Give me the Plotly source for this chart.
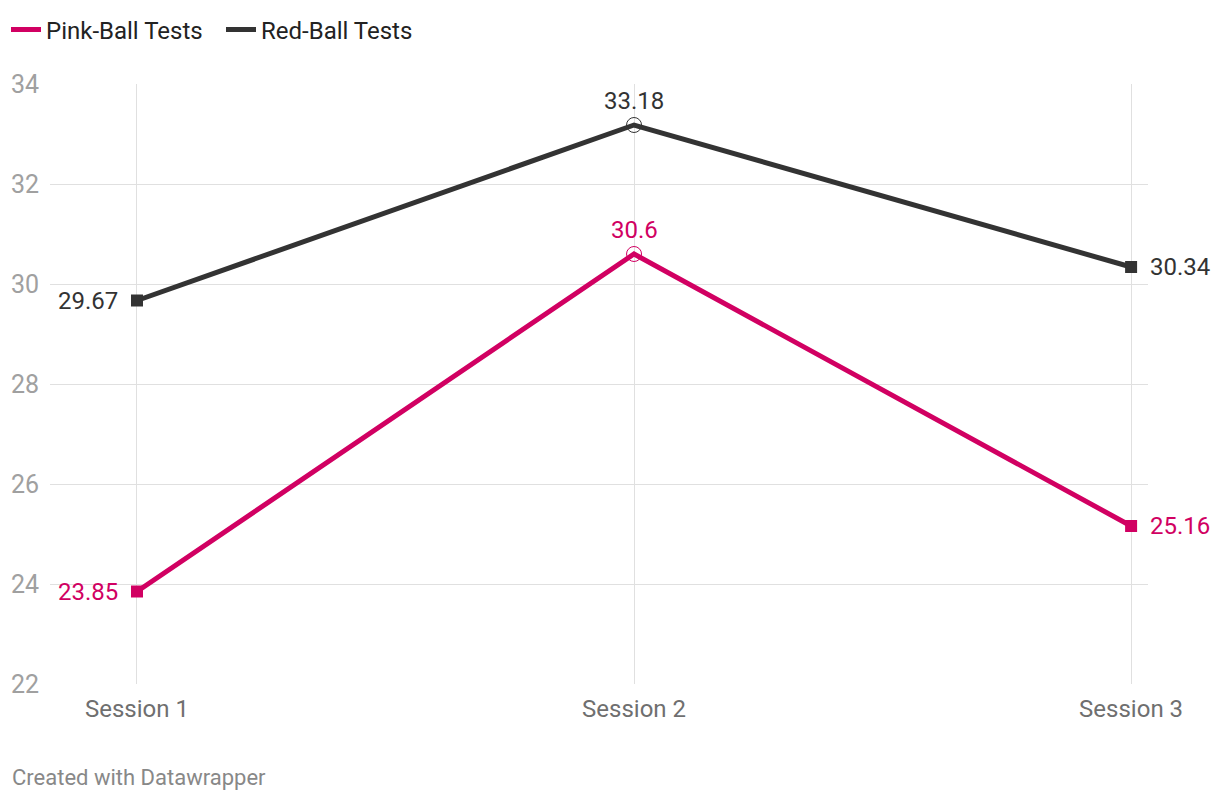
import plotly.graph_objects as go

sessions = ["Session 1", "Session 2", "Session 3"]
pink_ball = [23.85, 30.6, 25.16]
red_ball = [29.67, 33.18, 30.34]
y_ticks = [22, 24, 26, 28, 30, 32, 34]

PINK = "#d10062"
DARK = "#333333"
GRID = "#e0e0e0"
FONT = "Roboto"

x_pos = list(range(len(sessions)))
ends = [0, 2]  # square markers at the ends, open circle in the middle
# label placement per point: (xanchor, yanchor, xshift, yshift)
label_place = [("right", "middle", -17, 0), ("center", "bottom", 0, 8), ("left", "middle", 17, 0)]

fig = go.Figure()

for vals, color in [(red_ball, DARK), (pink_ball, PINK)]:
    fig.add_trace(go.Scatter(
        x=x_pos, y=vals, mode="lines",
        line=dict(color=color, width=5),
        showlegend=False, hoverinfo="skip",
    ))
    fig.add_trace(go.Scatter(
        x=[x_pos[i] for i in ends], y=[vals[i] for i in ends], mode="markers",
        marker=dict(symbol="square", size=12, color=color, opacity=1,
                    line=dict(width=0)),
        cliponaxis=False, showlegend=False, hoverinfo="skip",
    ))
    fig.add_trace(go.Scatter(
        x=[x_pos[1]], y=[vals[1]], mode="markers",
        marker=dict(symbol="circle-open", size=15, color=color, opacity=1,
                    line=dict(width=1, color=color)),
        cliponaxis=False, showlegend=False, hoverinfo="skip",
    ))
    for i, v in enumerate(vals):
        xa, ya, xs, ys = label_place[i]
        fig.add_annotation(x=x_pos[i], y=v, text=f"{v:g}", showarrow=False,
                           xanchor=xa, yanchor=ya, xshift=xs, yshift=ys,
                           font=dict(family=FONT, size=24, color=color))

# legend-only entries (line swatches, no markers)
for name, color in [("Pink-Ball Tests", PINK), ("Red-Ball Tests", DARK)]:
    fig.add_trace(go.Scatter(x=[None], y=[None], mode="lines", name=name,
                             line=dict(color=color, width=5)))

fig.add_annotation(text="Created with Datawrapper", xref="paper", yref="paper",
                   x=-40 / 1098, y=-93 / 600, xanchor="left", yanchor="middle",
                   showarrow=False, font=dict(family=FONT, size=22, color="#888888"))

# page body adds an 8px offset, so the figure is 8px smaller on each axis
fig.update_layout(
    width=1212, height=792,
    margin=dict(l=42, r=72, t=76, b=116, autoexpand=False),
    paper_bgcolor="white", plot_bgcolor="white",
    font=dict(family=FONT),
    legend=dict(orientation="h", x=-44 / 1098, y=1 + 54 / 600, xanchor="left", yanchor="middle",
                font=dict(family=FONT, size=24, color="#222222"), itemwidth=30,
                entrywidth=170, traceorder="normal"),
    xaxis=dict(range=[-0.175, 2.034], tickvals=x_pos, ticktext=sessions,
               showgrid=True, gridcolor=GRID, gridwidth=1, zeroline=False,
               showline=False, ticks="", ticklabelstandoff=8, automargin=False,
               tickfont=dict(family=FONT, size=24, color="#6f6f6f")),
    yaxis=dict(range=[22, 34], tickvals=y_ticks, showgrid=True, gridcolor=GRID,
               gridwidth=1, zeroline=False, showline=False, ticks="",
               ticklabelstandoff=10, automargin=False,
               tickfont=dict(family=FONT, size=25, color="#a0a0a0")),
)

fig.write_html("out.html")
